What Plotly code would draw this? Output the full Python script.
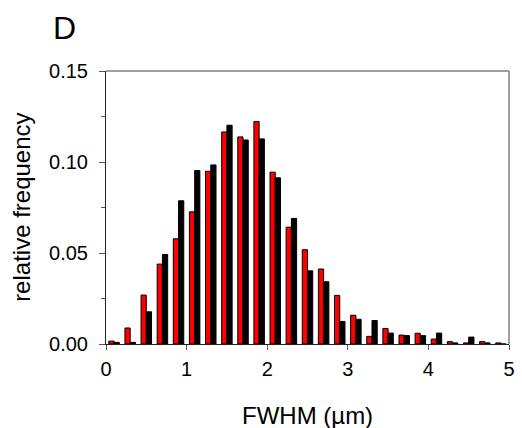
import plotly.graph_objects as go

bin_centers = [0.1, 0.3, 0.5, 0.7, 0.9, 1.1, 1.3, 1.5, 1.7, 1.9, 2.1, 2.3, 2.5,
               2.7, 2.9, 3.1, 3.3, 3.5, 3.7, 3.9, 4.1, 4.3, 4.5, 4.7, 4.9]
red_freq = [0.0016, 0.0088, 0.0269, 0.0439, 0.0578, 0.0726, 0.0949, 0.1165, 0.1138,
            0.1222, 0.0944, 0.0642, 0.0518, 0.0412, 0.0267, 0.0158, 0.0042, 0.0085,
            0.0049, 0.0059, 0.0027, 0.0013, 0.0006, 0.0013, 0.0006]
black_freq = [0.0009, 0.0009, 0.0177, 0.0492, 0.0787, 0.0953, 0.0984, 0.1202, 0.1121,
              0.1127, 0.0913, 0.0690, 0.0402, 0.0342, 0.0124, 0.0136, 0.0129, 0.0060,
              0.0046, 0.0046, 0.0060, 0.0006, 0.0038, 0.0006, 0.0]
x_ticks = [0, 1, 2, 3, 4, 5]
y_ticks = [0.00, 0.05, 0.10, 0.15]
y_tick_labels = ["0.00", "0.05", "0.10", "0.15"]

FONT = "Liberation Sans, Arial, sans-serif"

fig = go.Figure()
fig.add_trace(go.Bar(x=bin_centers, y=red_freq, marker=dict(color="#ff0000", line=dict(color="#000000", width=1)),
                     showlegend=False))
fig.add_trace(go.Bar(x=bin_centers, y=black_freq, marker=dict(color="#000000", line=dict(color="#000000", width=1)),
                     showlegend=False))

fig.update_layout(
    width=522, height=428,
    margin=dict(l=106, r=7, t=71, b=84),
    paper_bgcolor="white", plot_bgcolor="white",
    barmode="group", bargap=0.35, bargroupgap=0.0,
    font=dict(family=FONT, color="#000000"),
    xaxis=dict(range=[0, 5], tickvals=x_ticks, ticks="outside", ticklen=5, tickcolor="#555555",
               showline=True, linecolor="#222222", linewidth=1, showgrid=False, zeroline=False,
               tickfont=dict(size=20, family=FONT), ticklabelstandoff=2),
    yaxis=dict(range=[0, 0.15], tickvals=y_ticks, ticktext=y_tick_labels, ticks="outside", ticklen=6,
               tickcolor="#555555", showline=True, linecolor="#222222", linewidth=1, showgrid=False,
               zeroline=False, tickfont=dict(size=20, family=FONT), ticklabelstandoff=7,
               minor=dict(tickvals=[0.025, 0.075, 0.125], ticks="outside", ticklen=4, tickcolor="#555555")),
)

# frame top and right
fig.add_shape(type="line", xref="paper", yref="paper", x0=0, x1=1, y0=1, y1=1,
              line=dict(color="#808080", width=1.5))
fig.add_shape(type="line", xref="paper", yref="paper", x0=1, x1=1, y0=0, y1=1,
              line=dict(color="#808080", width=1.5))

fig.add_annotation(text="D", xref="paper", yref="paper", x=-0.137, y=1.158, xanchor="left", yanchor="middle",
                   showarrow=False, font=dict(size=32, family=FONT))
fig.add_annotation(text="relative frequency", xref="paper", yref="paper", x=-0.21, y=0.5,
                   xanchor="center", yanchor="middle", textangle=-90, showarrow=False,
                   font=dict(size=24, family=FONT))
fig.add_annotation(text="FWHM (µm)", xref="paper", yref="paper", x=0.5, y=-0.262,
                   xanchor="center", yanchor="middle", showarrow=False,
                   font=dict(size=24, family=FONT))

fig.write_html("out.html", config={"displayModeBar": False},
               post_script="document.body.style.margin='0';")
